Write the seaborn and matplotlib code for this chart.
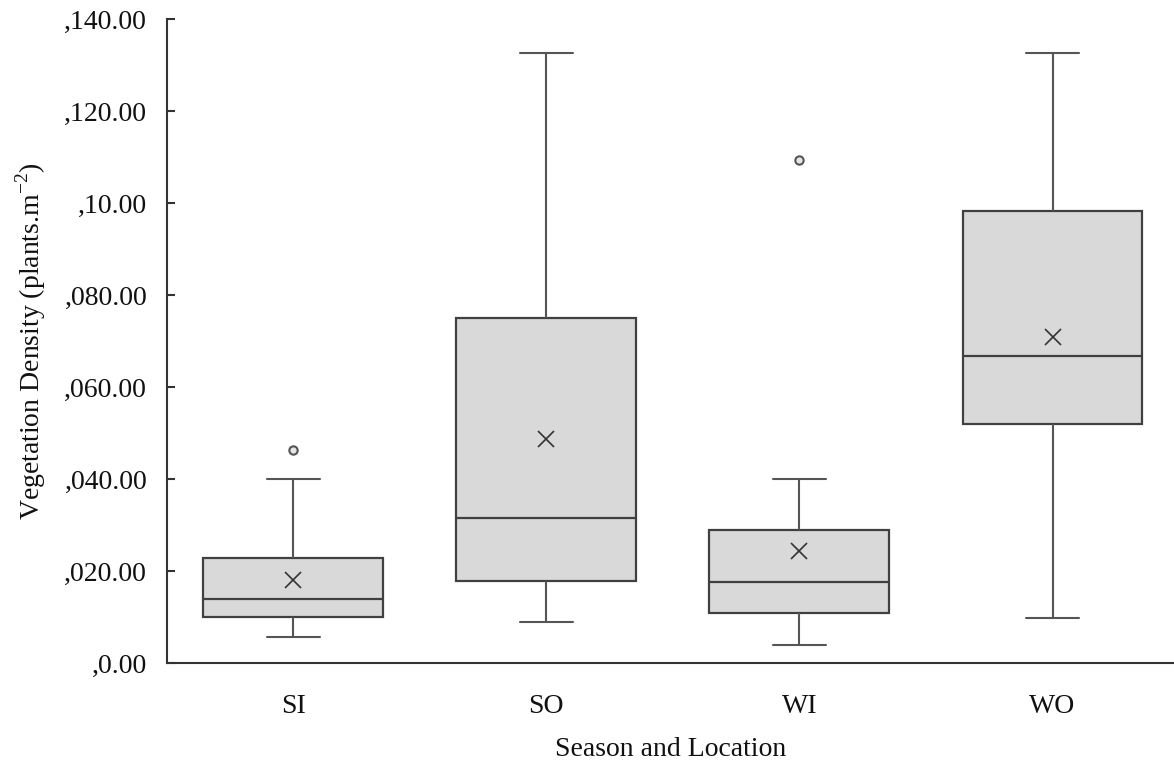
import matplotlib
matplotlib.use("Agg")
import matplotlib.pyplot as plt
import seaborn as sns
import pandas as pd

# ---- data ----
categories = ["SI", "SO", "WI", "WO"]
si_values = [5.7, 10.1, 10.1, 14.1, 14.1, 22.9, 22.9, 40.0, 46.3]
so_values = [9.0, 17.9, 31.7, 75.0, 132.7]
wi_values = [4.0, 11.0, 11.0, 17.6, 17.6, 29.0, 29.0, 40.0, 109.4]
wo_values = [9.8, 52.0, 66.8, 98.4, 132.7]
mean_values = [18.2, 48.8, 24.5, 70.9]
tick_values = [0, 20, 40, 60, 80, 100, 120, 140]
tick_labels = [",0.00", ",020.00", ",040.00", ",060.00", ",080.00", ",10.00", ",120.00", ",140.00"]

groups = {"SI": si_values, "SO": so_values, "WI": wi_values, "WO": wo_values}
df = pd.DataFrame(
    [(cat, v) for cat in categories for v in groups[cat]],
    columns=["group", "value"],
)

sns.set_style("white")
plt.rcParams["font.family"] = ["Liberation Serif", "DejaVu Serif"]
plt.rcParams["mathtext.fontset"] = "custom"
plt.rcParams["mathtext.rm"] = "Liberation Serif"

fig = plt.figure(figsize=(11.74, 7.69), dpi=100)
ax = fig.add_axes([0.142, 0.1372, 0.858, 0.8381])

edge = "#404040"
sns.boxplot(
    data=df, x="group", y="value", order=categories, ax=ax,
    width=0.711, color="#d9d9d9", whis=1.5,
    linecolor=edge, linewidth=1.5,
    boxprops=dict(facecolor="#d9d9d9", edgecolor=edge, linewidth=1.6),
    medianprops=dict(color=edge, linewidth=1.6),
    whiskerprops=dict(color="#555555", linewidth=1.5),
    capprops=dict(color="#555555", linewidth=1.5),
    flierprops=dict(marker="o", markersize=6, markerfacecolor="#e6e6e6",
                    markeredgecolor="#555555", markeredgewidth=1.5),
    capwidths=0.21,
)

sns.pointplot(
    x=categories, y=mean_values, order=categories, ax=ax,
    linestyle="none", marker="x", color="#333333",
    markersize=12, markeredgewidth=1.2, errorbar=None,
)

ax.set_ylim(0, 140)
ax.set_xlim(-0.5, 3.48)
ax.set_yticks(tick_values)
ax.set_yticklabels(tick_labels)

for s in ["top", "right"]:
    ax.spines[s].set_visible(False)
for s in ["left", "bottom"]:
    ax.spines[s].set_color("#333333")
    ax.spines[s].set_linewidth(1.5)

ax.tick_params(axis="y", left=True, direction="in", length=6, width=1.5, color="#333333",
               labelsize=20, pad=14, labelcolor="#111111")
ax.tick_params(axis="x", bottom=False, length=0, labelsize=20, pad=22, labelcolor="#111111")

ax.set_xlabel("Season and Location", fontsize=20, labelpad=13, color="#111111")
ax.set_ylabel(r"Vegetation Density (plants.m$^{\mathregular{-2}}$)", fontsize=20,
              labelpad=12, color="#111111")

fig.savefig("out.png", dpi=100)
